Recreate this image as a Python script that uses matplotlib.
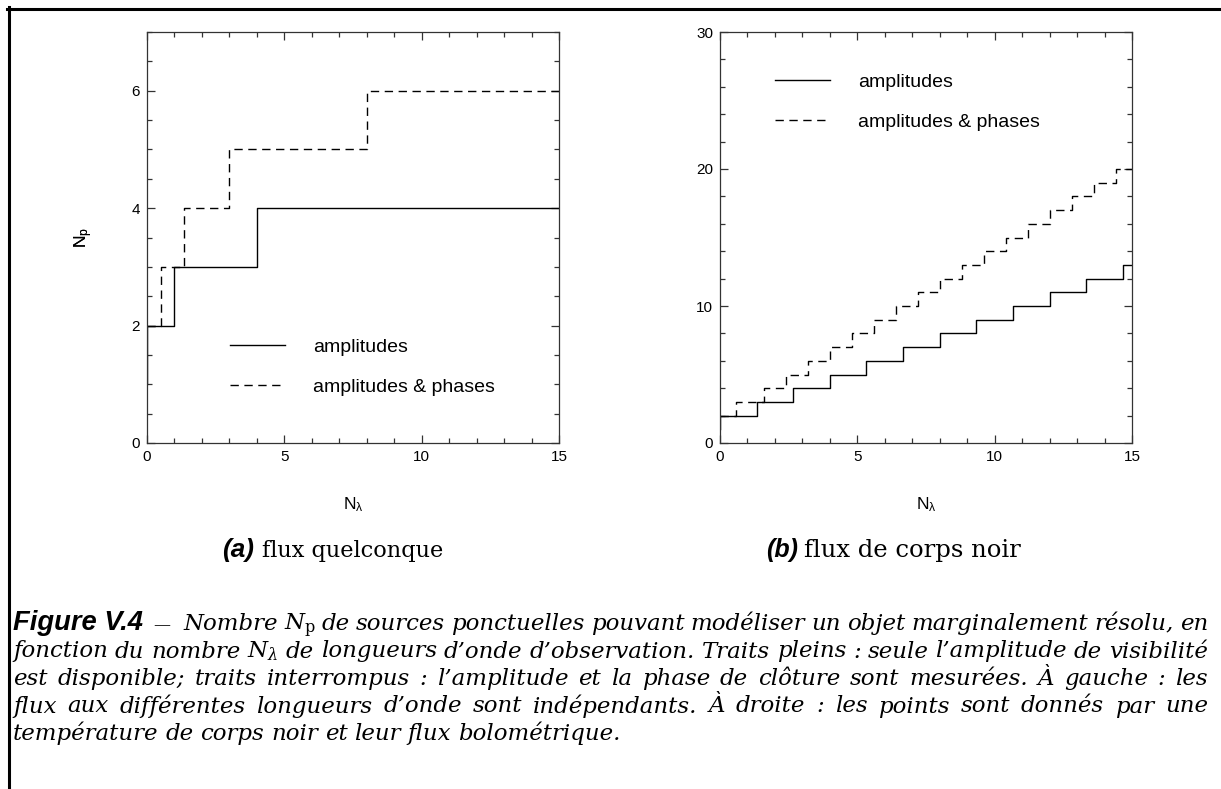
import matplotlib
matplotlib.use("Agg")
import matplotlib.pyplot as plt
from matplotlib.ticker import MultipleLocator
from matplotlib.lines import Line2D

plt.rcParams["font.family"] = ["Liberation Sans", "DejaVu Sans"]
plt.rcParams["mathtext.fontset"] = "custom"
plt.rcParams["mathtext.rm"] = "Liberation Sans"
plt.rcParams["mathtext.it"] = "Liberation Sans:italic"
plt.rcParams["mathtext.bf"] = "Liberation Sans:bold"

# ==========================
# DATA (step edges / levels)
# ==========================

# (a) flux quelconque
a_amp_x = [0, 0, 1, 4, 15]
a_amp_y = [1, 2, 3, 4, 4]
a_ph_x = [0, 0.5, 1.33, 3, 8, 15]
a_ph_y = [2, 3, 4, 5, 6, 6]

# (b) flux de corps noir
b_amp_x = [0, 0, 1.33, 2.67, 4, 5.33, 6.67, 8, 9.33, 10.67, 12, 13.33, 14.67, 15]
b_amp_y = [1, 2, 3, 4, 5, 6, 7, 8, 9, 10, 11, 12, 13, 13]
b_ph_x = [0, 0.6, 1.6, 2.4, 3.2, 4.0, 4.8, 5.6, 6.4, 7.2, 8.0, 8.8, 9.6,
          10.4, 11.2, 12.0, 12.8, 13.6, 14.4, 15]
b_ph_y = [2, 3, 4, 5, 6, 7, 8, 9, 10, 11, 12, 13, 14, 15, 16, 17, 18, 19, 20, 20]

labels = ["amplitudes", "amplitudes & phases"]

caption = [
    r"Nombre $N_\mathrm{p}$ de sources ponctuelles pouvant modéliser un objet marginalement résolu, en",
    r"fonction du nombre $N_\lambda$ de longueurs d’onde d’observation. Traits pleins : seule l’amplitude de visibilité",
    "est disponible; traits interrompus : l’amplitude et la phase de clôture sont mesurées. À gauche : les",
    "flux aux différentes longueurs d’onde sont indépendants. À droite : les points sont donnés par une",
    "température de corps noir et leur flux bolométrique.",
]

# ==========================
# FIGURE
# ==========================

W, H = 1221, 789
fig = plt.figure(figsize=(W / 100, H / 100), dpi=100)
renderer = fig.canvas.get_renderer()


def fx(px):
    return px / W


def fy(py):
    return 1 - py / H


DASH = (0, (6, 4))
SPINE = "#333333"


def setup(ax, ymax, ymaj, ymin):
    ax.set_xlim(0, 15)
    ax.set_ylim(0, ymax)
    ax.xaxis.set_major_locator(MultipleLocator(5))
    ax.xaxis.set_minor_locator(MultipleLocator(1))
    ax.yaxis.set_major_locator(MultipleLocator(ymaj))
    ax.yaxis.set_minor_locator(MultipleLocator(ymin))
    ax.tick_params(which="both", direction="in", top=True, right=True,
                   color=SPINE, width=0.9, labelsize=11)
    ax.tick_params(which="major", length=6, pad=5)
    ax.tick_params(which="minor", length=3.5)
    for s in ax.spines.values():
        s.set_color(SPINE)
        s.set_linewidth(0.9)


ax1 = fig.add_axes([fx(147), fy(443), fx(412), 411 / H])
ax2 = fig.add_axes([fx(720), fy(443), fx(412), 411 / H])

setup(ax1, 7, 2, 0.5)
setup(ax2, 30, 10, 2)

l1, = ax1.step(a_amp_x, a_amp_y, where="post", color="black", lw=1.0)
l2, = ax1.step(a_ph_x, a_ph_y, where="post", color="black", lw=1.0, linestyle=DASH)
r1, = ax2.step(b_amp_x, b_amp_y, where="post", color="black", lw=1.0)
r2, = ax2.step(b_ph_x, b_ph_y, where="post", color="black", lw=1.0, linestyle=DASH)

leg_kw = dict(loc="upper left", frameon=False, fontsize=14, handlelength=2.83,
              handletextpad=1.45, labelspacing=1.15, borderpad=0, borderaxespad=0)
ax1.legend([l1, l2], labels, bbox_to_anchor=(0.2015, 0.255), **leg_kw)
ax2.legend([r1, r2], labels, bbox_to_anchor=(0.1335, 0.90), **leg_kw)

for ax, xl in [(ax1, 147), (ax2, 720)]:
    ax.text((84 - xl) / 412, 0.5, r"N$_\mathrm{p}$", transform=ax.transAxes,
            rotation=90, ha="center", va="center", fontsize=12.5)
    ax.text(0.5, (443 - 505) / 411, r"N$_\mathrm{\lambda}$", transform=ax.transAxes,
            ha="center", va="center", fontsize=12.5)


# ==========================
# TEXT HELPERS
# ==========================

def fitted(x, y, s, width, **kw):
    # text whose font size is chosen to give a wanted pixel width
    t = fig.text(fx(x), fy(y), s, va="baseline", ha="left", fontsize=10, **kw)
    w10 = t.get_window_extent(renderer).width
    t.set_fontsize(10 * width / w10)
    return t


SANS_BI = dict(family="Liberation Sans", weight="bold", style="italic")
SERIF = dict(family="DejaVu Serif")
CAP = dict(family="DejaVu Serif", style="italic", math_fontfamily="dejavuserif")

# sub captions
fitted(222, 557, "(a)", 32, **SANS_BI)
fitted(262, 557, "flux quelconque", 183, **SERIF)
fitted(766, 557, "(b)", 32, **SANS_BI)
fitted(804, 557, "flux de corps noir", 217, **SERIF)

# caption font size chosen so a full line has normal word spacing
probe = caption[1].split(" ")
pt = [fig.text(0, 0, w, fontsize=10, **CAP) for w in probe]
s10 = sum(t.get_window_extent(renderer).width for t in pt)
for t in pt:
    t.remove()
CAP_SIZE = 1195 / (s10 / 10 + (len(probe) - 1) * 0.3 * 100 / 72)


def put_line(line, y, x0, x1, last=False):
    texts = [fig.text(0, fy(y), w, ha="left", va="baseline", fontsize=CAP_SIZE, **CAP)
             for w in line.split(" ")]
    widths = [t.get_window_extent(renderer).width for t in texts]
    gap = 0.3 * CAP_SIZE * 100 / 72 if last else (x1 - x0 - sum(widths)) / (len(texts) - 1)
    x = x0
    for t, w in zip(texts, widths):
        t.set_x(fx(x))
        x += w + gap


fitted(13, 630, "Figure V.4", 130, **SANS_BI)
fitted(153, 630, "\u2014", 17, family="DejaVu Serif")

put_line(caption[0], 630, 183, 1208)
for i, line in enumerate(caption[1:]):
    put_line(line, 630 + 27.5 * (i + 1), 13, 1208, last=(i == 3))

# frame lines (top and left)
fig.add_artist(Line2D([fx(7), 1], [fy(8.5), fy(8.5)], transform=fig.transFigure,
                      color="black", lw=2.2))
fig.add_artist(Line2D([fx(8.5), fx(8.5)], [fy(7), 0], transform=fig.transFigure,
                      color="black", lw=2.2))

fig.savefig("out.png", dpi=100)
